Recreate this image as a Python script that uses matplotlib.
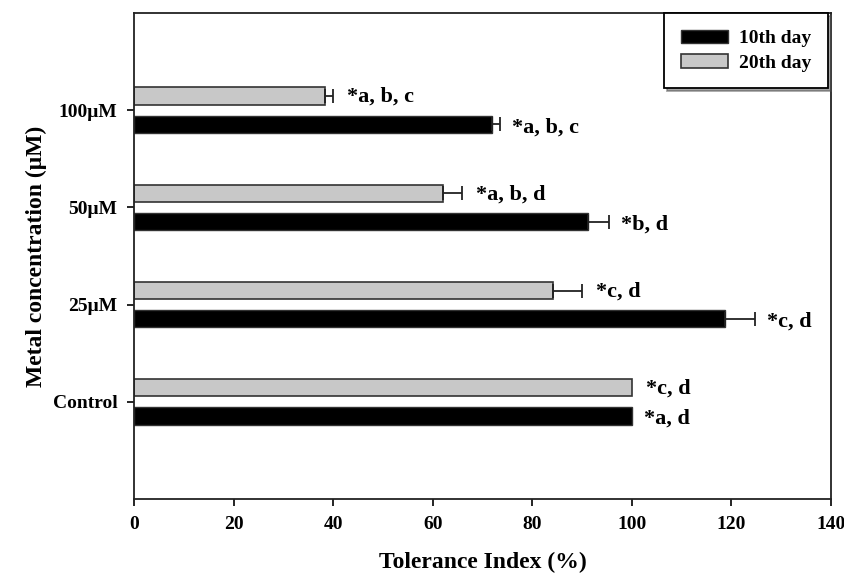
import numpy as np
import matplotlib as mpl
from matplotlib import pyplot as plt

mpl.rcParams['font.family'] = ['Liberation Serif', 'DejaVu Serif']
mpl.rcParams['font.weight'] = 'bold'

# 数据
groups = ['Control', '25μM', '50μM', '100μM']
day10 = [100, 118.7, 91.2, 71.9]
day10_err = [0, 6.0, 4.2, 1.6]
day20 = [100, 84.1, 62.0, 38.4]
day20_err = [0, 5.9, 3.9, 1.6]
day10_note = ['*a, d', '*c, d', '*b, d', '*a, b, c']
day20_note = ['*c, d', '*c, d', '*a, b, d', '*a, b, c']

fig = plt.figure(figsize=(8.44, 5.73), dpi=100)
ax = fig.add_axes([0.1588, 0.1291, 0.8258, 0.8482])

y = np.arange(len(groups))
h = 0.18
off = 0.145

ax.barh(y - off, day10, height=h, color='black', edgecolor='#333333', linewidth=1,
        label='10th day')
ax.barh(y + off, day20, height=h, color='#c8c8c8', edgecolor='#333333', linewidth=1.2,
        label='20th day')

# 误差线（只画右侧）
for i in range(len(groups)):
    if day10_err[i] > 0:
        ax.errorbar(day10[i], y[i] - off, xerr=[[0], [day10_err[i]]], fmt='none',
                    ecolor='#222222', elinewidth=1.3, capsize=5, capthick=1.3)
    if day20_err[i] > 0:
        ax.errorbar(day20[i], y[i] + off, xerr=[[0], [day20_err[i]]], fmt='none',
                    ecolor='#222222', elinewidth=1.3, capsize=5, capthick=1.3)

# 标注
for i in range(len(groups)):
    ax.text(day10[i] + day10_err[i] + 2.4, y[i] - off - 0.03, day10_note[i],
            fontsize=16, fontweight='bold', va='center', ha='left')
    ax.text(day20[i] + day20_err[i] + 2.8, y[i] + off - 0.01, day20_note[i],
            fontsize=16, fontweight='bold', va='center', ha='left')

ax.set_xlim(0, 140)
ax.set_ylim(-1, 4)
ax.set_xticks(np.arange(0, 141, 20))
ax.set_yticks(y)
ax.set_yticklabels(groups)
ax.tick_params(axis='both', direction='out', length=5, width=1.2, labelsize=14, pad=7)
for lab in ax.get_xticklabels() + ax.get_yticklabels():
    lab.set_fontweight('bold')
for s in ax.spines.values():
    s.set_linewidth(1.3)
    s.set_color('#222222')

ax.set_xlabel('Tolerance Index (%)', fontsize=17, fontweight='bold', labelpad=14)
ax.set_ylabel('Metal concentration (μM)', fontsize=17, fontweight='bold', labelpad=4)

leg = ax.legend(loc='upper right', bbox_to_anchor=(0.9957, 1.0), borderaxespad=0,
                fontsize=14, frameon=True, fancybox=False, shadow=True,
                handlelength=2.4, handleheight=0.7, handletextpad=0.6,
                borderpad=0.85, labelspacing=0.35)
leg.get_frame().set_edgecolor('black')
leg.get_frame().set_linewidth(1.3)

plt.savefig('out.png', dpi=100)
